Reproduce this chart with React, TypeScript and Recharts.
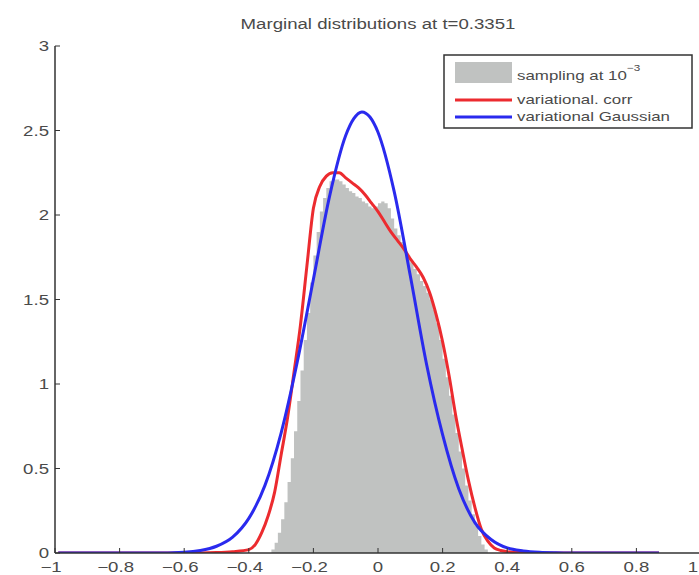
import { ComposedChart, Area, Line, XAxis, YAxis } from 'recharts'

// histogram of the sampled marginal (bin left edges, width 0.01)
const histX = [-0.34, -0.33, -0.32, -0.31, -0.3, -0.29, -0.28, -0.27, -0.26, -0.25, -0.24, -0.23, -0.22, -0.21, -0.2, -0.19, -0.18, -0.17, -0.16, -0.15, -0.14, -0.13, -0.12, -0.11, -0.1, -0.09, -0.08, -0.07, -0.06, -0.05, -0.04, -0.03, -0.02, -0.01, 0, 0.01, 0.02, 0.03, 0.04, 0.05, 0.06, 0.07, 0.08, 0.09, 0.1, 0.11, 0.12, 0.13, 0.14, 0.15, 0.16, 0.17, 0.18, 0.19, 0.2, 0.21, 0.22, 0.23, 0.24, 0.25, 0.26, 0.27, 0.28, 0.29, 0.3, 0.31, 0.32, 0.33, 0.34]
const histY = [0, 0.02, 0.06, 0.12, 0.2, 0.3, 0.42, 0.56, 0.72, 0.9, 1.08, 1.26, 1.42, 1.6, 1.76, 1.9, 2.02, 2.1, 2.16, 2.2, 2.21, 2.21, 2.2, 2.18, 2.16, 2.14, 2.13, 2.11, 2.1, 2.08, 2.07, 2.05, 2.04, 2.05, 2.07, 2.08, 2.07, 2.04, 1.98, 1.92, 1.88, 1.84, 1.8, 1.76, 1.72, 1.68, 1.65, 1.61, 1.58, 1.54, 1.5, 1.44, 1.36, 1.26, 1.15, 1.04, 0.93, 0.82, 0.71, 0.6, 0.5, 0.4, 0.31, 0.23, 0.16, 0.1, 0.05, 0.02, 0]

const corrX = [-0.99, -0.6, -0.5, -0.45, -0.4, -0.38, -0.36, -0.34, -0.32, -0.3, -0.28, -0.26, -0.24, -0.22, -0.2, -0.18, -0.16, -0.14, -0.12, -0.1, -0.08, -0.06, -0.04, -0.02, 0, 0.02, 0.04, 0.06, 0.08, 0.1, 0.12, 0.14, 0.16, 0.18, 0.2, 0.22, 0.24, 0.26, 0.28, 0.3, 0.32, 0.34, 0.36, 0.38, 0.4, 0.45, 0.5, 0.87]
const corrY = [0, 0, 0.003, 0.008, 0.02, 0.05, 0.12, 0.22, 0.36, 0.58, 0.8, 1.07, 1.35, 1.7, 2.04, 2.17, 2.23, 2.25, 2.25, 2.22, 2.19, 2.16, 2.12, 2.07, 2.02, 1.96, 1.9, 1.85, 1.8, 1.74, 1.69, 1.63, 1.54, 1.41, 1.25, 1.05, 0.82, 0.62, 0.43, 0.27, 0.14, 0.07, 0.03, 0.015, 0.008, 0.002, 0, 0]

const gaussX = [-0.99, -0.7, -0.6, -0.55, -0.5, -0.45, -0.4, -0.35, -0.3, -0.25, -0.2, -0.15, -0.1, -0.075, -0.05, -0.025, 0, 0.05, 0.1, 0.15, 0.2, 0.25, 0.3, 0.35, 0.4, 0.45, 0.5, 0.55, 0.6, 0.87]
const gaussY = [0, 0, 0.005, 0.015, 0.04, 0.094, 0.205, 0.4, 0.71, 1.13, 1.62, 2.11, 2.47, 2.57, 2.61, 2.58, 2.49, 2.14, 1.64, 1.12, 0.7, 0.38, 0.18, 0.08, 0.03, 0.012, 0.004, 0.001, 0, 0]

const xTicks = [-1, -0.8, -0.6, -0.4, -0.2, 0, 0.2, 0.4, 0.6, 0.8, 1]
const yTicks = [0, 0.5, 1, 1.5, 2, 2.5, 3]

const title = 'Marginal distributions at t=0.3351'
const legendLabels = ['sampling at 10', 'variational. corr', 'variational Gaussian']

const histData = histX.map((x, i) => ({ x, y: histY[i] }))
const corrData = corrX.map((x, i) => ({ x, y: corrY[i] }))
const gaussData = gaussX.map((x, i) => ({ x, y: gaussY[i] }))

const FONT = '"Liberation Sans", Arial, sans-serif'
const TEXT = '#4a4a4a'
const AXIS = '#333'
const GREY = '#c0c2c1'
const RED = '#ec2b2f'
const BLUE = '#2a2aee'

function fmt(v: number) {
  return v < 0 ? `\u2212${String(-v)}` : String(v)
}

function BottomTick(props: any) {
  const { x, y, payload } = props
  const v = payload.value as number
  // negatives sit a little left in the original; keep the last label on screen
  const lx = Math.min(v < 0 ? x - 4 : x, 693)
  return (
    <g>
      <line x1={x} y1={y} x2={x} y2={y - 5} stroke={AXIS} strokeWidth={1} />
      <text
        transform={`translate(${lx},${y + 19}) scale(1.33,1)`}
        textAnchor="middle"
        fontSize={14}
        fontFamily={FONT}
        fill={TEXT}
      >
        {fmt(v)}
      </text>
    </g>
  )
}

function TopTick(props: any) {
  const { x, y } = props
  return <line x1={x} y1={y} x2={x} y2={y + 5} stroke={AXIS} strokeWidth={1} />
}

function LeftTick(props: any) {
  const { x, y, payload } = props
  return (
    <g>
      <line x1={x} y1={y} x2={x + 5} y2={y} stroke={AXIS} strokeWidth={1} />
      <text
        transform={`translate(${x - 6},${y + 5}) scale(1.33,1)`}
        textAnchor="end"
        fontSize={14}
        fontFamily={FONT}
        fill={TEXT}
      >
        {String(payload.value)}
      </text>
    </g>
  )
}

function LegendBox() {
  return (
    <svg
      width={699}
      height={575}
      style={{ position: 'absolute', left: 0, top: 0, pointerEvents: 'none' }}
    >
      <rect x={444} y={55} width={248} height={73} fill="#fff" stroke={AXIS} strokeWidth={1.5} />
      <rect x={455} y={62} width={57} height={21} fill={GREY} />
      <line x1={455} y1={100} x2={512} y2={100} stroke={RED} strokeWidth={3} />
      <line x1={455} y1={117} x2={512} y2={117} stroke={BLUE} strokeWidth={3} />
      {legendLabels.map((t, i) => (
        <text
          key={t}
          transform={`translate(517,${[80, 104, 121][i]}) scale(1.3,1)`}
          fontSize={13}
          fontFamily={FONT}
          fill={TEXT}
        >
          {t}
          {i === 0 && (
            <tspan dy={-9} fontSize={9}>
              −3
            </tspan>
          )}
        </text>
      ))}
    </svg>
  )
}

export default function App() {
  return (
    <div
      style={{
        position: 'absolute',
        left: 0,
        top: 0,
        width: 699,
        height: 575,
        overflow: 'hidden',
        background: '#fff',
      }}
    >
      <div
        style={{
          position: 'absolute',
          left: 0,
          top: 16,
          width: 756,
          textAlign: 'center',
          fontFamily: FONT,
          fontSize: 14,
          color: TEXT,
          transform: 'scaleX(1.33)',
          transformOrigin: '378px 0',
        }}
      >
        {title}
      </div>
      <div style={{ position: 'absolute', left: 0, top: 0 }}>
        <ComposedChart
          width={710}
          height={575}
          margin={{ top: 46, right: 9, bottom: 0, left: 0 }}
        >
          <XAxis
            xAxisId="bottom"
            dataKey="x"
            type="number"
            domain={[-1, 1]}
            ticks={xTicks}
            allowDataOverflow
            stroke={AXIS}
            strokeWidth={1.5}
            tickLine={false}
            tickSize={0}
            tickMargin={0}
            height={22}
            interval={0}
            tick={<BottomTick />}
          />
          <XAxis
            xAxisId="top"
            orientation="top"
            dataKey="x"
            type="number"
            domain={[-1, 1]}
            ticks={xTicks}
            allowDataOverflow
            stroke={AXIS}
            strokeWidth={2}
            tickLine={false}
            tickSize={0}
            tickMargin={0}
            height={0}
            interval={0}
            tick={<TopTick />}
          />
          <YAxis
            type="number"
            domain={[0, 3]}
            ticks={yTicks}
            allowDataOverflow
            stroke={AXIS}
            strokeWidth={1.5}
            tickLine={false}
            tickSize={0}
            tickMargin={0}
            width={55}
            interval={0}
            tick={<LeftTick />}
          />
          <Area
            xAxisId="bottom"
            data={histData}
            dataKey="y"
            type="stepAfter"
            fill={GREY}
            fillOpacity={1}
            stroke="none"
            isAnimationActive={false}
          />
          <Line
            xAxisId="bottom"
            data={corrData}
            dataKey="y"
            type="monotone"
            stroke={RED}
            strokeWidth={3}
            dot={false}
            isAnimationActive={false}
          />
          <Line
            xAxisId="bottom"
            data={gaussData}
            dataKey="y"
            type="monotone"
            stroke={BLUE}
            strokeWidth={3}
            dot={false}
            isAnimationActive={false}
          />
        </ComposedChart>
      </div>
      <LegendBox />
    </div>
  )
}
